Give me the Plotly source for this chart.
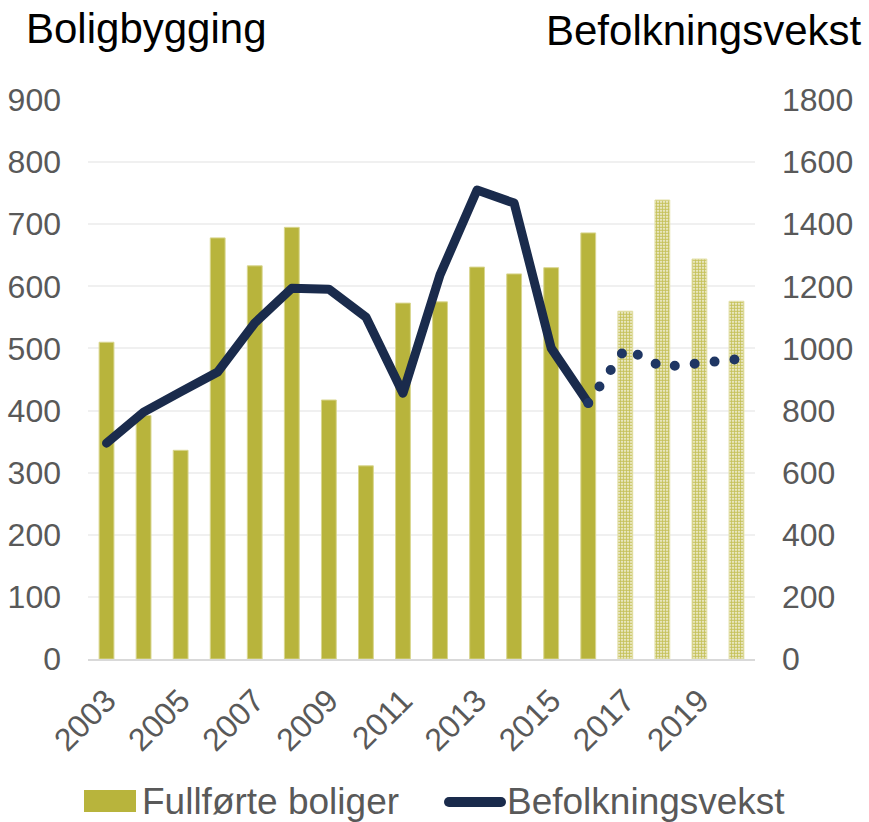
import plotly.graph_objects as go

years = list(range(2003, 2021))
boliger_actual_years = list(range(2003, 2017))
boliger_actual = [510, 392, 336, 678, 633, 695, 417, 311, 573, 575, 631, 620, 630, 686]
boliger_forecast_years = [2017, 2018, 2019, 2020]
boliger_forecast = [560, 739, 644, 576]

pop_actual_years = list(range(2003, 2017))
pop_actual = [695, 795, 860, 924, 1082, 1194, 1191, 1101, 856, 1237, 1510, 1468, 1001, 824]
pop_forecast_years = [2016, 2017, 2018, 2019, 2020]
pop_forecast = [824, 1000, 940, 953, 965]

left_ticks = list(range(0, 1000, 100))
right_ticks = list(range(0, 2000, 200))
x_ticks = list(range(2003, 2021, 2))

OLIVE = "#b8b43c"
NAVY = "#1a2b4c"
GREY = "#595959"
FONT = "Liberation Sans, Arial, sans-serif"

fig = go.Figure()
fig.add_trace(go.Bar(x=boliger_actual_years, y=boliger_actual, width=0.4,
                     marker=dict(color=OLIVE, line=dict(width=1, color="#d9d68f")),
                     name="Fullførte boliger", showlegend=False))
fig.add_trace(go.Bar(x=boliger_forecast_years, y=boliger_forecast, width=0.4,
                     marker=dict(color="white", line=dict(width=1, color="#e3e0a8"),
                                 pattern=dict(shape=".", fgcolor="#c6c25c", bgcolor="white",
                                              size=3, solidity=0.7, fillmode="replace")),
                     showlegend=False))
fig.add_trace(go.Scatter(x=pop_actual_years, y=pop_actual, yaxis="y2", mode="lines",
                         line=dict(color=NAVY, width=9), name="Befolkningsvekst",
                         showlegend=False))
fig.add_trace(go.Scatter(x=pop_forecast_years, y=pop_forecast, yaxis="y2", mode="lines",
                         line=dict(color="#1f3663", width=10, dash="0px,20px"),
                         showlegend=False))

W, H = 869, 822
L, R, T, B = 88, 114, 100, 163
pw, ph = W - L - R, H - T - B


def px(x):
    return (x - L) / pw


def py(y):
    return (H - B - y) / ph


fig.update_layout(
    width=W, height=H,
    margin=dict(l=L, r=R, t=T, b=B, autoexpand=False),
    paper_bgcolor="white", plot_bgcolor="white",
    font=dict(family=FONT, size=30, color=GREY),
    barmode="overlay",
    xaxis=dict(range=[2002.5, 2020.5], tickmode="array", tickvals=x_ticks,
               ticktext=[str(v) for v in x_ticks], tickangle=-45, automargin=False,
               showgrid=False, zeroline=False, showline=True, linecolor="#d9d9d9",
               linewidth=2, ticks="", ticklabelstandoff=8,
               tickfont=dict(size=32, color=GREY)),
    yaxis=dict(range=[0, 900], tickmode="array", tickvals=left_ticks, automargin=False,
               showgrid=True, gridcolor="#f0f0f0", gridwidth=2, zeroline=False,
               ticks="", ticklabelstandoff=26, tickfont=dict(size=32, color=GREY)),
    yaxis2=dict(range=[0, 1800], tickmode="array", tickvals=right_ticks, automargin=False,
                overlaying="y", side="right", showgrid=False, zeroline=False,
                ticks="", ticklabelstandoff=26, tickfont=dict(size=32, color=GREY)),
    showlegend=False,
)

fig.add_annotation(text="Boligbygging", xref="paper", yref="paper", x=px(24), y=py(28),
                   xanchor="left", yanchor="middle", showarrow=False,
                   font=dict(size=42, color="black", family=FONT))
fig.add_annotation(text="Befolkningsvekst", xref="paper", yref="paper", x=px(863), y=py(30),
                   xanchor="right", yanchor="middle", showarrow=False,
                   font=dict(size=42, color="black", family=FONT))

# legend
fig.add_shape(type="rect", xref="paper", yref="paper", x0=px(84), x1=px(136),
              y0=py(812), y1=py(790), fillcolor=OLIVE, line=dict(width=0))
fig.add_annotation(text="Fullførte boliger", xref="paper", yref="paper", x=px(140), y=py(801),
                   xanchor="left", yanchor="middle", showarrow=False,
                   font=dict(size=37, color=GREY, family=FONT))
fig.add_shape(type="line", xref="paper", yref="paper", x0=px(449), x1=px(501),
              y0=py(802), y1=py(802), line=dict(color=NAVY, width=10))
fig.add_annotation(text="Befolkningsvekst", xref="paper", yref="paper", x=px(505), y=py(801),
                   xanchor="left", yanchor="middle", showarrow=False,
                   font=dict(size=37, color=GREY, family=FONT))

post = """
document.body.style.margin = '0';
document.body.style.padding = '0';
document.body.style.overflow = 'hidden';
var gd = document.getElementById('{plot_id}');
function fixCaps(){
  gd.querySelectorAll('.scatterlayer path.js-line, .shapelayer path').forEach(function(p){
    p.style.strokeLinecap = 'round';
    p.style.strokeLinejoin = 'round';
  });
}
fixCaps();
gd.on('plotly_afterplot', fixCaps);
"""

fig.write_html("out.html", post_script=post, config={"displayModeBar": False})
